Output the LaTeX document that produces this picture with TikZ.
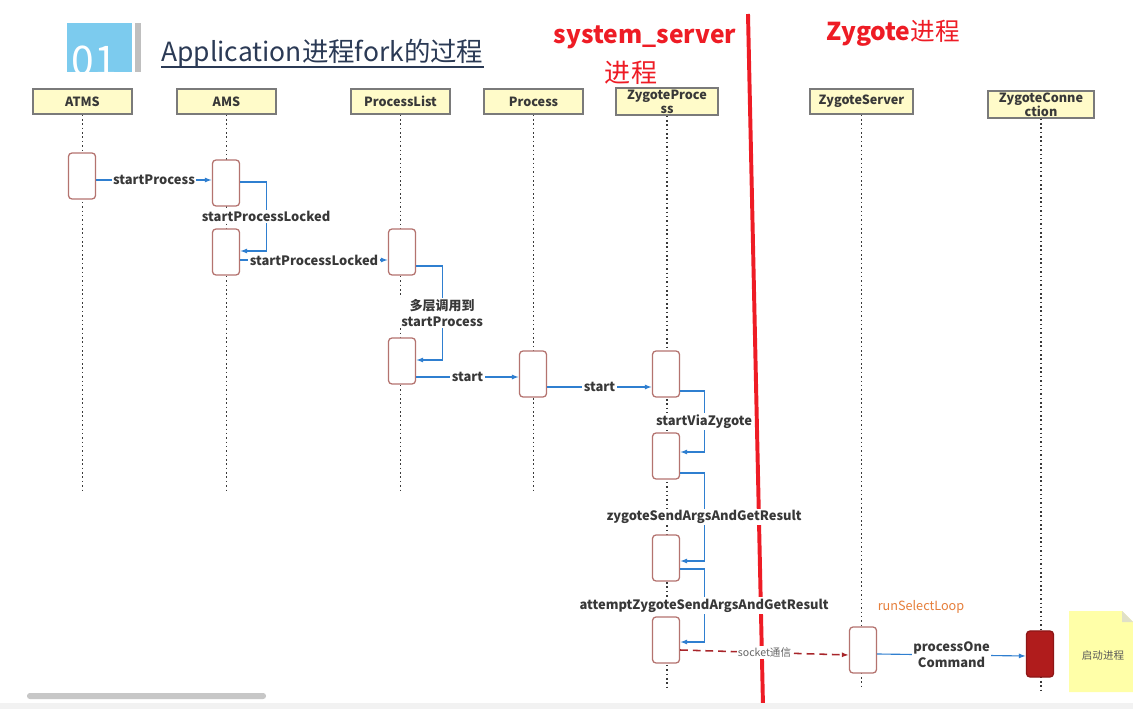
\documentclass[tikz,border=0pt]{standalone}
\usepackage{fontspec}
\setmainfont{Noto Sans CJK SC}
\usetikzlibrary{positioning, arrows.meta, calc}

\definecolor{headfill}{HTML}{FFFBC9}
\definecolor{headline}{HTML}{7A7A7A}
\definecolor{labeltext}{HTML}{383838}
\definecolor{actline}{HTML}{B4736F}
\definecolor{actdark}{HTML}{B01C1C}
\definecolor{lifeline}{HTML}{3A3A3A}
\definecolor{msgblue}{HTML}{2F7FD0}
\definecolor{sockred}{HTML}{A8252A}
\definecolor{procred}{HTML}{EE1C25}
\definecolor{titleblue}{HTML}{7CCBEE}
\definecolor{titletext}{HTML}{2B3A55}
\definecolor{looporange}{HTML}{E67E3A}
\definecolor{notefill}{HTML}{FFFFA8}

\begin{document}
\begin{tikzpicture}[x=0.025cm, y=-0.025cm, >=Latex,
        head/.style={rectangle, draw=headline, line width=0.9pt, fill=headfill, minimum width=2.475cm, minimum height=0.625cm, inner sep=1pt, align=center, font=\fontsize{9}{9.8}\selectfont\bfseries, text=labeltext},
        act/.style={rectangle, draw=actline, line width=0.9pt, fill=white, rounded corners=2.5pt, minimum width=0.675cm, minimum height=1.15cm, inner sep=0pt},
        life/.style={draw=lifeline, line width=1.1pt, dash pattern=on 1.1pt off 2pt},
        msg/.style={draw=msgblue, line width=0.8pt, -{Latex[length=5pt,width=3.6pt]}},
        lbl/.style={fill=white, inner sep=1pt, text=labeltext, align=center, font=\fontsize{9.2}{11.5}\selectfont\bfseries},
        redtitle/.style={text=procred, inner sep=0pt, font=\fontsize{17.5}{20}\selectfont\bfseries}]

        \useasboundingbox (0,0) rectangle (1133,709);
        \fill[white] (0,0) rectangle (1133,709);

        % title
        \fill[titleblue] (67,23) rectangle (132,72);
        \begin{scope}
            \clip (67,23) rectangle (132,72);
            \node[text=white, inner sep=0pt, anchor=base, font=\fontsize{29}{30}\selectfont] (num) at (94,76) {01};
        \end{scope}
        \fill[black!25] (135,23) rectangle (141,72);
        \node[anchor=base west, inner sep=0pt, text=titletext, font=\fontsize{18.8}{21}\selectfont] (title) at (161,62) {Application进程fork的过程};
        \draw[titletext, line width=0.8pt] ($(title.base west)+(0,5)$) -- ($(title.base east)+(0,5)$);

        % process labels and split line
        \node[redtitle] (sysname) at (645,37) {system\_server};
        \node[redtitle, font=\fontsize{18.5}{20}\selectfont, below=0.3cm of sysname, xshift=-0.35cm] (sysproc) {进程};
        \node[redtitle] (zyname) at (893,33) {Zygote{\mdseries 进程}};
        \coordinate (splitT) at (748,14);
        \coordinate (splitB) at (763,706);
        \draw[procred, line width=2.8pt] (splitT) -- (splitB);

        % lifeline heads
        \node[head] (atms) at (82.5,101.5) {ATMS};
        \node[head] (ams) at (226.5,101.5) {AMS};
        \node[head] (plist) at (400.5,101.5) {ProcessList};
        \node[head] (proc) at (533.5,101.5) {Process};
        \node[head, minimum width=2.55cm, minimum height=0.675cm, inner sep=0pt] (zproc) at (667,101.5) {ZygoteProce\\ss};
        \node[head, minimum width=2.575cm] (zserv) at (861.5,101.5) {ZygoteServer};
        \node[head, minimum width=2.65cm, minimum height=0.675cm, inner sep=0pt] (zconn) at (1041,104.5) {ZygoteConne\\ction};

        \coordinate (endA) at (0,490);
        \coordinate (endB) at (0,690);
        \foreach \n/\e in {atms/endA, ams/endA, plist/endA, proc/endA, zproc/endB, zserv/endB, zconn/endB}
            \draw[life] (\n.south) -- (\n.south |- \e);

        % activations
        \node[act] (atmsA) at (82,176) {};
        \node[act] (amsA) at (226,183) {};
        \node[act] (amsB) at (226,252) {};
        \node[act] (plistA) at (402,252) {};
        \node[act] (plistB) at (402,361) {};
        \node[act] (procA) at (533,374) {};
        \node[act] (zprocA) at (666,374) {};
        \node[act] (zprocB) at (666,456) {};
        \node[act] (zprocC) at (666,558) {};
        \node[act] (zprocD) at (666,640) {};
        \node[act] (zservA) at (863,650) {};
        \node[act, fill=actdark, draw=actdark!80!black] (zconnA) at (1040,654) {};

        % messages
        \draw[msg] ($(atmsA.east)+(0,4)$) -- node[lbl] {startProcess} ($(amsA.west)+(0,-3)$);
        \draw[msg] ($(amsA.east)+(0,-1)$) -- ++(26,0) |- node[lbl, pos=0.25] {startProcessLocked} ($(amsB.east)+(0,-1)$);
        \draw[msg] ($(amsB.east)+(0,8)$) -- node[lbl] {startProcessLocked} ($(plistA.west)+(0,8)$);
        \draw[msg] ($(plistA.east)+(0,14)$) -- ++(26,0) |- node[lbl, pos=0.25] {多层调用到\\startProcess} ($(plistB.east)+(0,-1)$);
        \draw[msg] ($(plistB.east)+(0,16)$) -- node[lbl] {start} ($(procA.west)+(0,3)$);
        \draw[msg] ($(procA.east)+(0,13)$) -- node[lbl] {start} ($(zprocA.west)+(0,13)$);
        \draw[msg] ($(zprocA.east)+(0,17)$) -- ++(24,0) |- node[lbl, pos=0.25] {startViaZygote} ($(zprocB.east)+(0,-4)$);
        \draw[msg] ($(zprocB.east)+(0,17)$) -- ++(24,0) |- node[lbl, pos=0.25] {zygoteSendArgsAndGetResult} ($(zprocC.east)+(0,3)$);
        \draw[msg] ($(zprocC.east)+(0,11)$) -- ++(24,0) |- node[lbl, pos=0.25] {attemptZygoteSendArgsAndGetResult} ($(zprocD.east)+(0,2)$);
        \draw[draw=sockred, line width=1.1pt, dash pattern=on 5.5pt off 3.5pt, -{Latex[length=5pt,width=3.6pt]}] ($(zprocD.east)+(0,10)$) -- node[fill=white, inner sep=1pt, text=black!60, font=\fontsize{7.5}{9}\selectfont] {socket通信} ($(zservA.west)+(0,5)$);
        \draw[msg] ($(zservA.east)+(0,4)$) -- node[lbl] {processOne\\Command} ($(zconnA.west)+(0,2)$);
        \node[text=looporange, inner sep=0pt, font=\fontsize{9}{10}\selectfont] (loop) at (921,607) {runSelectLoop};

        % note
        \fill[notefill] (1069,611) -- (1122,611) -- (1133,622) -- (1133,692) -- (1069,692) -- cycle;
        \fill[notefill!70!black!40] (1122,611) -- (1122,622) -- (1133,622) -- cycle;
        \node[text=black!65, inner sep=0pt, font=\fontsize{7.5}{9}\selectfont] (note) at (1103,655) {启动进程};

        % scroll bar
        \fill[black!22, rounded corners=2pt] (27,693) rectangle (266,699);
        \fill[black!5] (0,703) rectangle (1133,709);
    \end{tikzpicture}
\end{document}
